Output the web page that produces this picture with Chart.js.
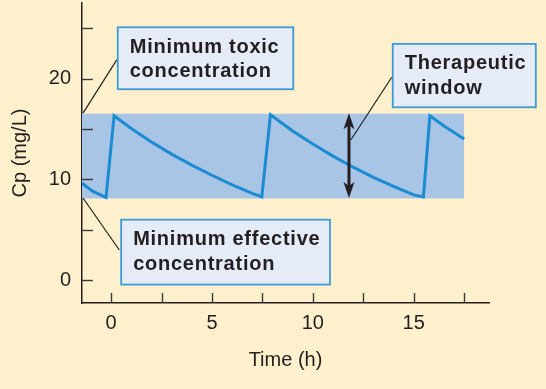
<!DOCTYPE html>
<html>
<head>
<meta charset="utf-8">
<script src="https://cdn.jsdelivr.net/npm/chart.js@4.4.1/dist/chart.umd.min.js"></script>
<style>
  html, body { margin: 0; padding: 0; background: #FEF0CC; }
  #wrap { width: 546px; height: 389px; }
</style>
</head>
<body>
<div id="wrap"><canvas id="cpChart"></canvas></div>
<script>
// plasma concentration over time
const timeH = [-1.44, -0.9, -0.25, 0.15, 1, 2, 3, 4, 5, 6, 7, 7.47, 7.9, 9, 10, 11, 12, 13, 14, 15, 15.48, 15.8, 16.5, 17.5];
const cpValues = [9.6, 8.8, 8.2, 16.3, 15.05, 13.7, 12.5, 11.4, 10.4, 9.45, 8.6, 8.25, 16.4, 14.8, 13.5, 12.3, 11.2, 10.2, 9.3, 8.45, 8.25, 16.3, 15.3, 14.0];

// therapeutic window
const windowTime = [-1.44, 17.5];
const toxicLevel = 16.5;
const effectiveLevel = 8.1;

// labelled ticks
const xLabelTicks = [0, 5, 10, 15];
const yLabelTicks = [0, 10, 20];

const INK = "#231F20";
const FONT = '"Liberation Sans", Arial, Helvetica, sans-serif';

// callouts, placed in data units
const callouts = [
  { lines: ["Minimum toxic", "concentration"], box: [0.33, 25.09, 9.03, 18.94], leader: [[0.28, 21.85], [-1.38, 16.6]] },
  { lines: ["Minimum effective", "concentration"], box: [0.5, 5.99, 10.85, -0.45], leader: [[-1.39, 8.14], [0.41, 2.98]] },
  { lines: ["Therapeutic", "window"], box: [13.96, 23.44, 21.05, 17.15], leader: [[13.91, 20.13], [11.88, 13.9]] }
];
const arrowAt = { x: 11.79, from: 16.55, to: 8.15 };

const overlay = {
  id: "overlay",
  afterDraw(chart) {
    const { ctx, scales: { x, y } } = chart;
    ctx.save();

    // inward tick marks
    ctx.strokeStyle = "#3a3a3a";
    ctx.lineWidth = 1.4;
    x.ticks.forEach(t => {
      const px = Math.round(x.getPixelForValue(t.value)) + 0.5;
      ctx.beginPath();
      ctx.moveTo(px, y.bottom);
      ctx.lineTo(px, y.bottom - 10);
      ctx.stroke();
    });
    y.ticks.forEach(t => {
      const py = Math.round(y.getPixelForValue(t.value)) + 0.5;
      ctx.beginPath();
      ctx.moveTo(x.left, py);
      ctx.lineTo(x.left + 11, py);
      ctx.stroke();
    });

    // leader lines
    ctx.strokeStyle = INK;
    ctx.lineWidth = 1.2;
    callouts.forEach(c => {
      ctx.beginPath();
      ctx.moveTo(x.getPixelForValue(c.leader[0][0]), y.getPixelForValue(c.leader[0][1]));
      ctx.lineTo(x.getPixelForValue(c.leader[1][0]), y.getPixelForValue(c.leader[1][1]));
      ctx.stroke();
    });

    // double-headed arrow across the window
    const ax = x.getPixelForValue(arrowAt.x);
    const ay1 = y.getPixelForValue(arrowAt.from);
    const ay2 = y.getPixelForValue(arrowAt.to);
    ctx.lineWidth = 3;
    ctx.beginPath();
    ctx.moveTo(ax, ay1 + 10);
    ctx.lineTo(ax, ay2 - 10);
    ctx.stroke();
    ctx.fillStyle = INK;
    [[ay1, 1], [ay2, -1]].forEach(([tip, dir]) => {
      ctx.beginPath();
      ctx.moveTo(ax, tip);
      ctx.lineTo(ax + 5.5, tip + dir * 16);
      ctx.lineTo(ax, tip + dir * 12);
      ctx.lineTo(ax - 5.5, tip + dir * 16);
      ctx.closePath();
      ctx.fill();
    });

    // callout boxes
    callouts.forEach(c => {
      const l = x.getPixelForValue(c.box[0]);
      const t = y.getPixelForValue(c.box[1]);
      const r = x.getPixelForValue(c.box[2]);
      const b = y.getPixelForValue(c.box[3]);
      ctx.fillStyle = "#E5EBF7";
      ctx.fillRect(l, t, r - l, b - t);
      ctx.strokeStyle = "#3F9BD8";
      ctx.lineWidth = 1.8;
      ctx.strokeRect(l, t, r - l, b - t);
      ctx.fillStyle = INK;
      ctx.font = "bold 20px " + FONT;
      ctx.letterSpacing = "0.75px";
      ctx.textAlign = "left";
      ctx.textBaseline = "alphabetic";
      c.lines.forEach((line, i) => ctx.fillText(line, l + 12, t + 25.5 + i * 24.5));
      ctx.letterSpacing = "0px";
    });

    ctx.restore();
  }
};

document.addEventListener("DOMContentLoaded", () => {
  new Chart(document.getElementById("cpChart"), {
    type: "line",
    data: {
      datasets: [
        {
          label: "Cp",
          data: timeH.map((t, i) => ({ x: t, y: cpValues[i] })),
          borderColor: "#1B8BD2",
          borderWidth: 3,
          pointRadius: 0,
          tension: 0,
          fill: false
        },
        {
          label: "Therapeutic window",
          data: windowTime.map(t => ({ x: t, y: toxicLevel })),
          borderWidth: 0,
          borderColor: "rgba(0,0,0,0)",
          backgroundColor: "#A9C5E6",
          pointRadius: 0,
          fill: { target: { value: effectiveLevel } }
        }
      ]
    },
    options: {
      responsive: true,
      maintainAspectRatio: false,
      animation: false,
      devicePixelRatio: 1,
      layout: { padding: { top: 3, right: 57, left: 0, bottom: 0 } },
      plugins: { legend: { display: false }, tooltip: { enabled: false } },
      scales: {
        x: {
          type: "linear",
          min: -1.44,
          max: 18.73,
          afterFit: s => { s.height = 86; s.paddingLeft = 0; s.paddingRight = 0; },
          grid: { display: false, drawTicks: false },
          border: { display: true, color: INK, width: 1.5 },
          ticks: {
            stepSize: 2.5,
            includeBounds: false,
            autoSkip: false,
            maxRotation: 0,
            padding: 8,
            color: INK,
            font: { family: FONT, size: 20 },
            callback: v => xLabelTicks.includes(v) ? String(v) : ""
          },
          title: {
            display: true,
            text: "Time (h)",
            color: INK,
            font: { family: FONT, size: 20 },
            padding: { top: 0, bottom: 17 }
          }
        },
        y: {
          min: -2.28,
          max: 27.5,
          afterFit: s => { s.width = 82; s.paddingTop = 0; s.paddingBottom = 0; },
          grid: { display: false, drawTicks: false },
          border: { display: true, color: INK, width: 1.5 },
          ticks: {
            stepSize: 5,
            includeBounds: false,
            autoSkip: false,
            padding: 11,
            color: INK,
            font: { family: FONT, size: 20 },
            callback: v => yLabelTicks.includes(v) ? String(v) : ""
          },
          title: {
            display: true,
            text: "Cp (mg/L)",
            color: INK,
            font: { family: FONT, size: 20 },
            padding: { top: 8, bottom: 0 }
          }
        }
      }
    },
    plugins: [overlay]
  });
});
</script>
</body>
</html>
